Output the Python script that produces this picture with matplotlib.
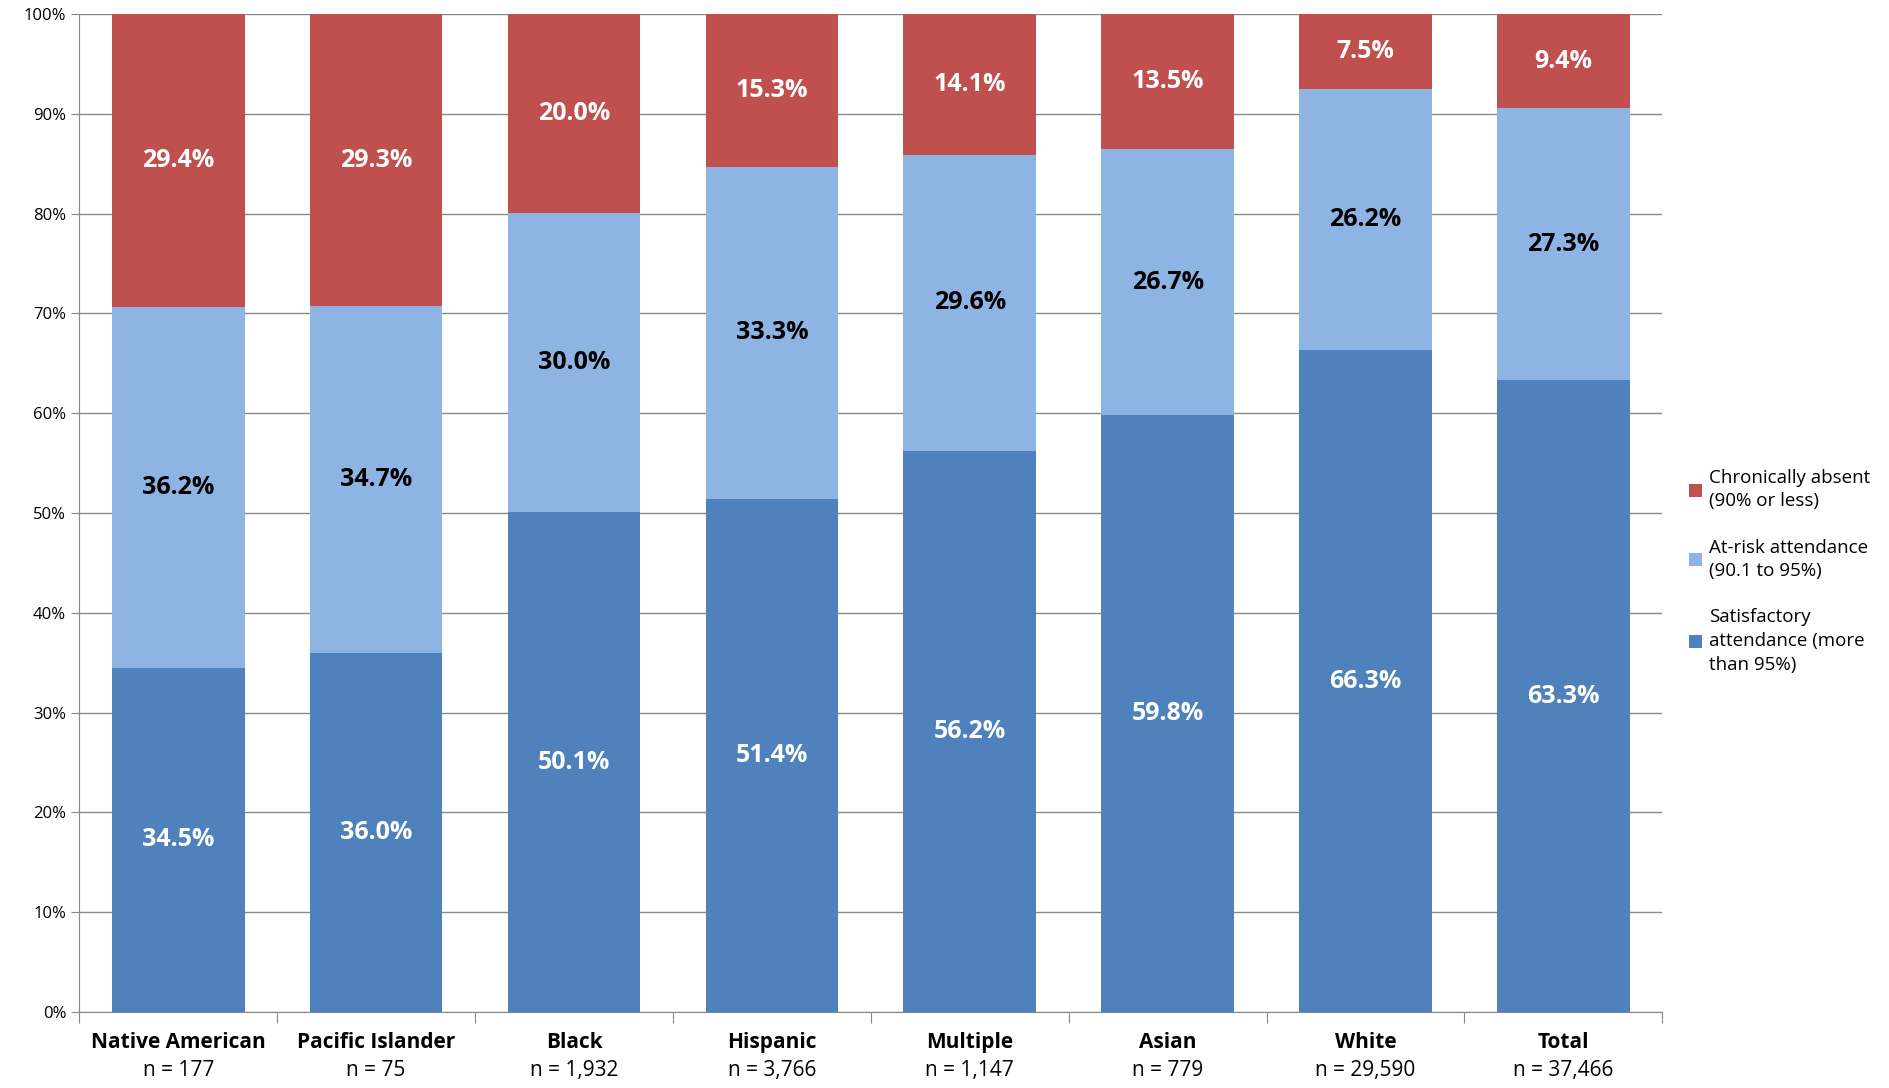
import matplotlib
matplotlib.use("Agg")
import matplotlib.pyplot as plt
import numpy as np

categories = ["Native American", "Pacific Islander", "Black", "Hispanic", "Multiple", "Asian", "White", "Total"]
counts = ["n = 177", "n = 75", "n = 1,932", "n = 3,766", "n = 1,147", "n = 779", "n = 29,590", "n = 37,466"]
satisfactory = [34.5, 36.0, 50.1, 51.4, 56.2, 59.8, 66.3, 63.3]
at_risk = [36.2, 34.7, 30.0, 33.3, 29.6, 26.7, 26.2, 27.3]
chronic = [29.4, 29.3, 20.0, 15.3, 14.1, 13.5, 7.5, 9.4]

plt.rcParams['font.family'] = ['Open Sans', 'DejaVu Sans']
fig = plt.figure(figsize=(18.89, 10.88), dpi=100)
ax = fig.add_axes([0.042, 0.07, 0.838, 0.917])

c_sat, c_risk, c_chr = "#4F81BD", "#8EB4E3", "#C0504D"
x = np.arange(len(categories))
w = 0.67
s = np.array(satisfactory); r = np.array(at_risk); c = np.array(chronic)
tot = s + r + c
sn, rn, cn = s / tot * 100, r / tot * 100, c / tot * 100
ax.bar(x, sn, w, color=c_sat, label="Satisfactory\nattendance (more\nthan 95%)", zorder=3)
ax.bar(x, rn, w, bottom=sn, color=c_risk, label="At-risk attendance\n(90.1 to 95%)", zorder=3)
ax.bar(x, cn, w, bottom=sn + rn, color=c_chr, label="Chronically absent\n(90% or less)", zorder=3)
for i in x:
    ax.text(i, sn[i] / 2, f"{s[i]:.1f}%", ha="center", va="center", color="white", fontsize=18, fontweight="bold", zorder=4)
    ax.text(i, sn[i] + rn[i] / 2, f"{r[i]:.1f}%", ha="center", va="center", color="black", fontsize=18, fontweight="bold", zorder=4)
    ax.text(i, sn[i] + rn[i] + cn[i] / 2, f"{c[i]:.1f}%", ha="center", va="center", color="white", fontsize=18, fontweight="bold", zorder=4)

ax.set_xlim(-0.5, len(categories) - 0.5)
ax.set_ylim(0, 100)
ax.set_yticks(np.arange(0, 101, 10))
ax.set_yticklabels([f"{v}%" for v in range(0, 101, 10)], fontsize=12)
ax.yaxis.grid(True, color="#888888", linewidth=1, zorder=0)
ax.set_xticks(np.arange(-0.5, len(categories), 1))
ax.set_xticklabels([])
ax.tick_params(axis="x", length=8, color="#888888")
ax.tick_params(axis="y", length=6, color="#888888")
for sp in ["top", "right"]:
    ax.spines[sp].set_visible(False)
for sp in ["left", "bottom"]:
    ax.spines[sp].set_color("#888888")
for i, (cat, n) in enumerate(zip(categories, counts)):
    ax.text(i, -2.0, cat, ha="center", va="top", fontsize=15, fontweight="bold")
    ax.text(i, -4.8, n, ha="center", va="top", fontsize=15)

h, l = ax.get_legend_handles_labels()
leg = fig.legend(h[::-1], l[::-1], loc="center left", bbox_to_anchor=(0.885, 0.475), frameon=False,
           fontsize=13.5, handlelength=0.7, handleheight=0.7, labelspacing=1.5, handletextpad=0.4)
for t in leg.get_texts():
    t.set_linespacing(1.4)
fig.savefig("out.png", dpi=100)
